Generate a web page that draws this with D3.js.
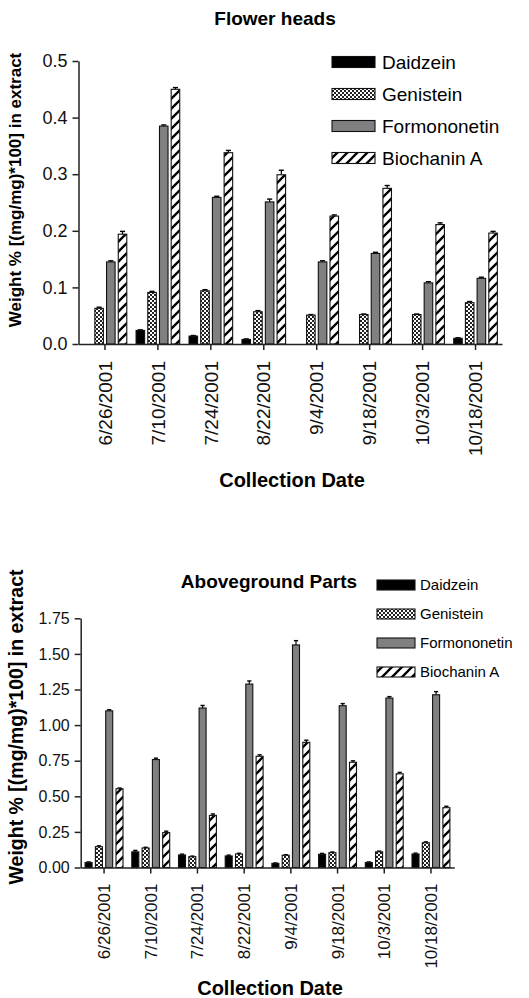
<!DOCTYPE html>
<html><head><meta charset="utf-8">
<script src="https://cdn.jsdelivr.net/npm/d3@7"></script>
<style>body{margin:0;background:#fff}svg{display:block;font-family:"Liberation Sans",Arial,sans-serif}</style>
</head><body>
<svg id="c" width="529" height="998"></svg>
<script>
const dates = ["6/26/2001","7/10/2001","7/24/2001","8/22/2001","9/4/2001","9/18/2001","10/3/2001","10/18/2001"];
const seriesNames = ["Daidzein","Genistein","Formononetin","Biochanin A"];

// Flower heads
const fhDaidzein     = [0, 0.024, 0.014, 0.008, 0, 0, 0, 0.010];
const fhGenistein    = [0.063, 0.091, 0.094, 0.057, 0.051, 0.052, 0.052, 0.073];
const fhFormononetin = [0.145, 0.385, 0.259, 0.251, 0.145, 0.160, 0.108, 0.116];
const fhBiochanin    = [0.194, 0.450, 0.338, 0.299, 0.226, 0.275, 0.211, 0.196];
const fhDaidzeinErr     = [0, 0.001, 0.001, 0.001, 0, 0, 0, 0.001];
const fhGenisteinErr    = [0.002, 0.002, 0.002, 0.002, 0.001, 0.001, 0.001, 0.002];
const fhFormononetinErr = [0.002, 0.002, 0.002, 0.005, 0.002, 0.002, 0.002, 0.002];
const fhBiochaninErr    = [0.005, 0.003, 0.004, 0.008, 0.002, 0.005, 0.003, 0.003];
const fhTicks = [0, 0.1, 0.2, 0.3, 0.4, 0.5];

// Aboveground parts
const agDaidzein     = [0.035, 0.11, 0.088, 0.081, 0.029, 0.093, 0.035, 0.095];
const agGenistein    = [0.146, 0.137, 0.076, 0.095, 0.086, 0.104, 0.11, 0.174];
const agFormononetin = [1.10, 0.758, 1.12, 1.288, 1.563, 1.136, 1.19, 1.213];
const agBiochanin    = [0.553, 0.245, 0.366, 0.781, 0.879, 0.739, 0.658, 0.42];
const agDaidzeinErr     = [0.004, 0.01, 0.006, 0.006, 0.003, 0.006, 0.004, 0.006];
const agGenisteinErr    = [0.006, 0.005, 0.004, 0.005, 0.004, 0.005, 0.005, 0.006];
const agFormononetinErr = [0.008, 0.01, 0.018, 0.022, 0.03, 0.015, 0.01, 0.022];
const agBiochaninErr    = [0.005, 0.01, 0.01, 0.01, 0.015, 0.01, 0.01, 0.01];
const agTicks = [0, 0.25, 0.5, 0.75, 1.0, 1.25, 1.5, 1.75];

const svg = d3.select("#c");
const defs = svg.append("defs");
const chk = defs.append("pattern").attr("id","chk").attr("patternUnits","userSpaceOnUse").attr("width",4).attr("height",4);
chk.append("rect").attr("width",4).attr("height",4).attr("fill","#fff");
chk.append("rect").attr("width",2).attr("height",2).attr("fill","#222");
chk.append("rect").attr("x",2).attr("y",2).attr("width",2).attr("height",2).attr("fill","#222");
const str = defs.append("pattern").attr("id","str").attr("patternUnits","userSpaceOnUse").attr("width",10).attr("height",10);
str.append("rect").attr("width",10).attr("height",10).attr("fill","#fff");
str.append("path").attr("d","M-3,3 L3,-3 M0,10 L10,0 M7,13 L13,7").attr("stroke","#000").attr("stroke-width",2.3);

const fills = {"Daidzein":"#000","Genistein":"url(#chk)","Formononetin":"#808080","Biochanin A":"url(#str)"};

function drawChart(o) {
  const g = svg.append("g");
  const y = d3.scaleLinear().domain([0, o.ticks[o.ticks.length-1]]).range([o.y0, o.yTop]);
  const x0 = d3.scaleBand().domain(dates).range([o.xLeft, o.xRight]).padding(0);
  const x1 = d3.scaleBand().domain(seriesNames).range([-o.groupHalf, o.groupHalf]).paddingInner(o.pi).paddingOuter(o.pi/2);
  const rows = [];
  o.series.forEach((vals, si) => vals.forEach((v, di) => rows.push({s: seriesNames[si], d: dates[di], v, e: o.errs[si][di]})));
  const bars = rows.filter(r => r.v > 0);
  const bx = r => x0(r.d) + x0.bandwidth()/2 + x1(r.s);
  // error bars
  g.selectAll("line.eb").data(bars.filter(r => r.e > 0)).join("line")
    .attr("x1", r => bx(r) + x1.bandwidth()/2).attr("x2", r => bx(r) + x1.bandwidth()/2)
    .attr("y1", r => y(r.v)).attr("y2", r => y(r.v + r.e)).attr("stroke","#000").attr("stroke-width",1.2);
  g.selectAll("line.cap").data(bars.filter(r => r.e > 0)).join("line")
    .attr("x1", r => bx(r) + x1.bandwidth()*0.2).attr("x2", r => bx(r) + x1.bandwidth()*0.8)
    .attr("y1", r => y(r.v + r.e)).attr("y2", r => y(r.v + r.e)).attr("stroke","#000").attr("stroke-width",1.4);
  g.selectAll("rect.bar").data(bars).join("rect")
    .attr("x", bx).attr("width", x1.bandwidth())
    .attr("y", r => y(r.v)).attr("height", r => y(0) - y(r.v))
    .attr("fill", r => fills[r.s]).attr("stroke","#111").attr("stroke-width",1.1);

  // axes
  const ya = g.append("g").attr("transform", `translate(${o.xLeft},0)`)
    .call(d3.axisLeft(y).tickValues(o.ticks).tickFormat(d3.format(o.fmt)).tickSize(6).tickSizeOuter(0).tickPadding(5));
  ya.selectAll("text").style("font-size", o.yTickFont + "px").attr("fill","#111");
  ya.selectAll("line,path").attr("stroke","#222").attr("stroke-width",1.5);
  const xa = g.append("g").attr("transform", `translate(0,${o.y0})`)
    .call(d3.axisBottom(x0).tickSize(6).tickSizeOuter(0));
  xa.selectAll("line,path").attr("stroke","#222").attr("stroke-width",1.5);
  xa.selectAll("text").style("font-size", o.xTickFont + "px").attr("fill","#111")
    .attr("transform","rotate(-90)").attr("x", -o.xLabGap).attr("y", 0).attr("dy","0.35em").style("text-anchor","end");

  // titles
  g.append("text").attr("x", o.titleX).attr("y", o.titleY).attr("text-anchor","middle")
    .style("font-weight","bold").style("font-size", o.titleFont + "px").text(o.title);
  g.append("text").attr("transform", `translate(${o.yTitleX},${o.yTitleY}) rotate(-90)`).attr("text-anchor","middle")
    .style("font-weight","bold").style("font-size", o.yTitleFont + "px").text("Weight % [(mg/mg)*100] in extract");
  g.append("text").attr("x", o.xTitleX).attr("y", o.xTitleY).attr("text-anchor","middle")
    .style("font-weight","bold").style("font-size", o.xTitleFont + "px").text("Collection Date");

  // legend
  const lg = g.selectAll("g.leg").data(seriesNames).join("g")
    .attr("transform", (d, i) => `translate(${o.legX},${o.legY0 + i*o.legDy})`);
  lg.append("rect").attr("x",0).attr("y",-o.swH/2).attr("width",o.swW).attr("height",o.swH)
    .attr("fill", d => fills[d]).attr("stroke","#111").attr("stroke-width",1.1);
  lg.append("text").attr("x", o.swW + o.legGap).attr("y",0).attr("dy","0.35em")
    .style("font-size", o.legFont + "px").text(d => d);
}

drawChart({
  series:[fhDaidzein, fhGenistein, fhFormononetin, fhBiochanin],
  errs:[fhDaidzeinErr, fhGenisteinErr, fhFormononetinErr, fhBiochaninErr],
  ticks: fhTicks, fmt: ".1f",
  y0: 344, yTop: 61, xLeft: 78.5, xRight: 502, groupHalf: 23.4, pi: 0.27,
  yTickFont: 18, xTickFont: 19, xLabGap: 17,
  title: "Flower heads", titleX: 275, titleY: 25, titleFont: 19,
  yTitleX: 21, yTitleY: 190, yTitleFont: 17,
  xTitleX: 292, xTitleY: 487, xTitleFont: 20,
  legX: 332, legY0: 62, legDy: 32, swW: 43, swH: 11, legGap: 7, legFont: 19
});

drawChart({
  series:[agDaidzein, agGenistein, agFormononetin, agBiochanin],
  errs:[agDaidzeinErr, agGenisteinErr, agFormononetinErr, agBiochaninErr],
  ticks: agTicks, fmt: ".2f",
  y0: 867.5, yTop: 618.3, xLeft: 80.7, xRight: 454.3, groupHalf: 20.6, pi: 0.32,
  yTickFont: 16, xTickFont: 17, xLabGap: 16,
  title: "Aboveground Parts", titleX: 269, titleY: 588, titleFont: 19,
  yTitleX: 23, yTitleY: 727, yTitleFont: 19.5,
  xTitleX: 270, xTitleY: 995, xTitleFont: 20,
  legX: 377, legY0: 585, legDy: 29, swW: 38, swH: 10, legGap: 5, legFont: 15
});
</script>
</body></html>
